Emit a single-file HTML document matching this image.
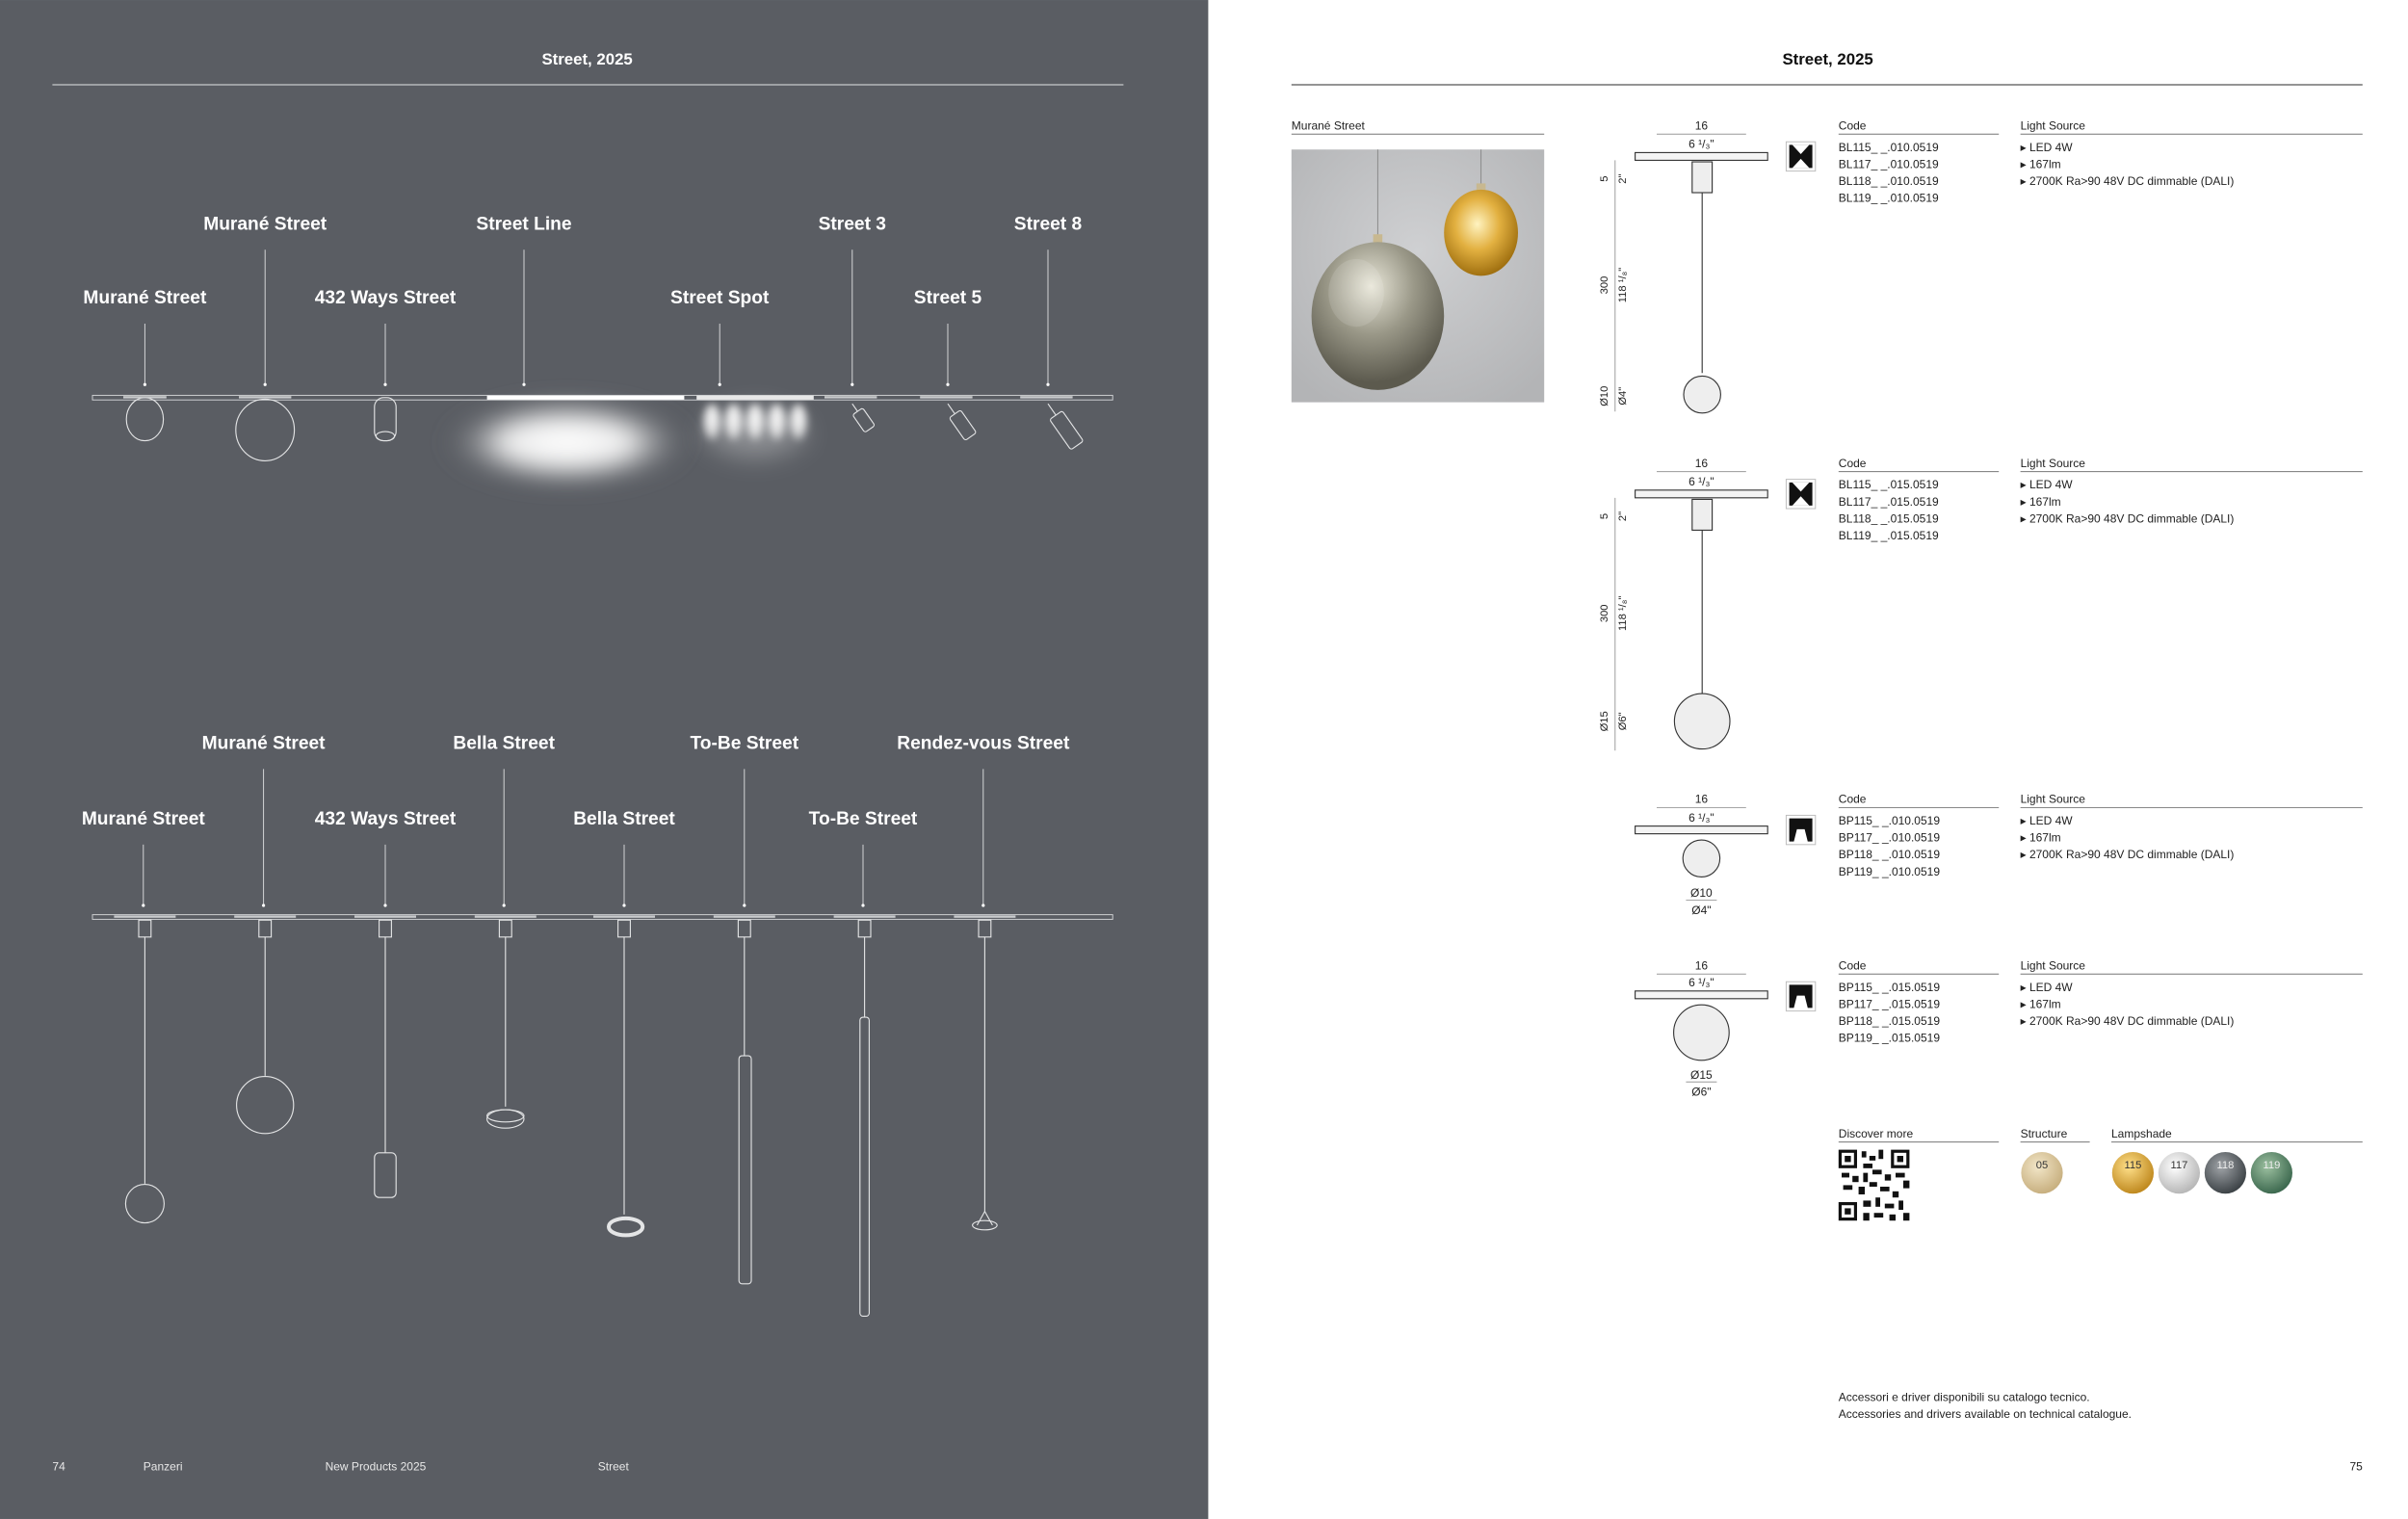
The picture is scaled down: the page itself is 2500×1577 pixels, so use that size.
<!DOCTYPE html>
<html><head><meta charset="utf-8">
<style>
html,body{margin:0;padding:0;background:#fff;}
svg{display:block;}
text{font-family:"Liberation Sans",sans-serif;}
</style></head>
<body>
<svg width="2500" height="1577" viewBox="0 0 1562.5 985.6" xmlns="http://www.w3.org/2000/svg">
<defs>
<radialGradient id="glow" cx="50%" cy="50%" r="50%">
<stop offset="0" stop-color="#fff" stop-opacity="1"/>
<stop offset="0.5" stop-color="#f4f4f4" stop-opacity="0.95"/>
<stop offset="1" stop-color="#5a5d63" stop-opacity="0"/>
</radialGradient>
<radialGradient id="spotg" cx="50%" cy="35%" r="55%">
<stop offset="0" stop-color="#fff" stop-opacity="1"/>
<stop offset="0.6" stop-color="#eee" stop-opacity="0.8"/>
<stop offset="1" stop-color="#fff" stop-opacity="0"/>
</radialGradient>
<radialGradient id="smoke" cx="45%" cy="30%" r="65%">
<stop offset="0" stop-color="#e8e6d8"/>
<stop offset="0.5" stop-color="#9a9888"/>
<stop offset="1" stop-color="#5c5a4e"/>
</radialGradient>
<radialGradient id="amber" cx="45%" cy="40%" r="60%">
<stop offset="0" stop-color="#fff3c0"/>
<stop offset="0.5" stop-color="#e2b040"/>
<stop offset="1" stop-color="#a07010"/>
</radialGradient>
<radialGradient id="gold" cx="40%" cy="35%" r="65%"><stop offset="0" stop-color="#ffe08a"/><stop offset="1" stop-color="#c08a20"/></radialGradient>
<radialGradient id="silver" cx="40%" cy="35%" r="65%"><stop offset="0" stop-color="#fff"/><stop offset="1" stop-color="#b8b8b8"/></radialGradient>
<radialGradient id="dark" cx="40%" cy="35%" r="65%"><stop offset="0" stop-color="#a0a4a8"/><stop offset="1" stop-color="#3e4448"/></radialGradient>
<radialGradient id="green" cx="40%" cy="35%" r="65%"><stop offset="0" stop-color="#9cc0a0"/><stop offset="1" stop-color="#3e6a50"/></radialGradient>
<radialGradient id="beige" cx="40%" cy="35%" r="65%"><stop offset="0" stop-color="#f2e6c8"/><stop offset="1" stop-color="#c8b080"/></radialGradient>
<radialGradient id="bg" cx="50%" cy="40%" r="70%"><stop offset="0" stop-color="#cfd0d2"/><stop offset="1" stop-color="#b3b4b6"/></radialGradient>
<filter id="blur" x="-50%" y="-50%" width="200%" height="200%"><feGaussianBlur stdDeviation="7"/></filter>
<filter id="blur2" x="-50%" y="-50%" width="200%" height="200%"><feGaussianBlur stdDeviation="2.5"/></filter>
</defs>

<!-- LEFT PAGE -->
<rect x="0" y="0" width="784" height="985.6" fill="#5a5d63"/>
<text x="381" y="42" fill="#fff" font-size="10.5" font-weight="bold" text-anchor="middle">Street, 2025</text>
<line x1="34" y1="55" x2="729" y2="55" stroke="#c8cacc" stroke-width="0.8"/>

<g fill="#fff" font-size="12" font-weight="bold" text-anchor="middle">
<text x="172" y="149">Murané Street</text>
<text x="340" y="149">Street Line</text>
<text x="553" y="149">Street 3</text>
<text x="680" y="149">Street 8</text>
<text x="94" y="197">Murané Street</text>
<text x="250" y="197">432 Ways Street</text>
<text x="467" y="197">Street Spot</text>
<text x="615" y="197">Street 5</text>
</g>
<g stroke="#d8d9db" stroke-width="0.6">
<line x1="172" y1="162" x2="172" y2="249"/>
<line x1="340" y1="162" x2="340" y2="249"/>
<line x1="553" y1="162" x2="553" y2="249"/>
<line x1="680" y1="162" x2="680" y2="249"/>
<line x1="94" y1="210" x2="94" y2="249"/>
<line x1="250" y1="210" x2="250" y2="249"/>
<line x1="467" y1="210" x2="467" y2="249"/>
<line x1="615" y1="210" x2="615" y2="249"/>
</g>
<g fill="#fff"><circle cx="172" cy="249.5" r="1"/><circle cx="340" cy="249.5" r="1"/><circle cx="553" cy="249.5" r="1"/><circle cx="680" cy="249.5" r="1"/><circle cx="94" cy="249.5" r="1"/><circle cx="250" cy="249.5" r="1"/><circle cx="467" cy="249.5" r="1"/><circle cx="615" cy="249.5" r="1"/></g>

<!-- top rail -->
<rect x="60" y="256.5" width="662" height="3" fill="none" stroke="#d0d2d4" stroke-width="0.6"/>
<!-- glow -->
<ellipse cx="368" cy="287" rx="82" ry="30" fill="url(#glow)" filter="url(#blur)"/>
<g filter="url(#blur2)">
<ellipse cx="462" cy="276" rx="6.5" ry="14" fill="url(#spotg)"/>
<ellipse cx="476" cy="276" rx="6.5" ry="14" fill="url(#spotg)"/>
<ellipse cx="490" cy="276" rx="6.5" ry="14" fill="url(#spotg)"/>
<ellipse cx="504" cy="276" rx="6.5" ry="14" fill="url(#spotg)"/>
<ellipse cx="518" cy="276" rx="6.5" ry="14" fill="url(#spotg)"/>
</g>
<ellipse cx="490" cy="285" rx="38" ry="22" fill="url(#spotg)" opacity="0.35" filter="url(#blur)"/>
<rect x="316" y="256.7" width="128" height="2.6" fill="#fff"/>
<rect x="452" y="256.7" width="76" height="2.6" fill="#e8e8e8"/>
<g fill="none" stroke="#e4e5e6" stroke-width="0.7">
<ellipse cx="94" cy="272" rx="12" ry="14"/>
<ellipse cx="172" cy="279" rx="19" ry="20"/>
<rect x="243" y="258" width="14" height="28" rx="6"/>
<ellipse cx="250" cy="283" rx="6" ry="3"/>
<g transform="translate(553,262) rotate(-35)"><line x1="0" y1="0" x2="0" y2="6"/><rect x="-4" y="6" width="8" height="14" rx="1.5"/></g>
<g transform="translate(615,262) rotate(-35)"><line x1="0" y1="0" x2="0" y2="8"/><rect x="-4.5" y="8" width="9" height="18" rx="1.5"/></g>
<g transform="translate(680,262) rotate(-35)"><line x1="0" y1="0" x2="0" y2="9"/><rect x="-5" y="9" width="10" height="24" rx="1.5"/></g>
</g>
<g fill="#c8cacc"><rect x="80" y="257" width="28" height="1.5"/><rect x="155" y="257" width="34" height="1.5"/><rect x="535" y="257" width="34" height="1.5"/><rect x="597" y="257" width="34" height="1.5"/><rect x="662" y="257" width="34" height="1.5"/></g>

<!-- bottom labels -->
<g fill="#fff" font-size="12" font-weight="bold" text-anchor="middle">
<text x="171" y="486">Murané Street</text>
<text x="327" y="486">Bella Street</text>
<text x="483" y="486">To-Be Street</text>
<text x="638" y="486">Rendez-vous Street</text>
<text x="93" y="535">Murané Street</text>
<text x="250" y="535">432 Ways Street</text>
<text x="405" y="535">Bella Street</text>
<text x="560" y="535">To-Be Street</text>
</g>
<g stroke="#d8d9db" stroke-width="0.6">
<line x1="171" y1="499" x2="171" y2="587"/>
<line x1="327" y1="499" x2="327" y2="587"/>
<line x1="483" y1="499" x2="483" y2="587"/>
<line x1="638" y1="499" x2="638" y2="587"/>
<line x1="93" y1="548" x2="93" y2="587"/>
<line x1="250" y1="548" x2="250" y2="587"/>
<line x1="405" y1="548" x2="405" y2="587"/>
<line x1="560" y1="548" x2="560" y2="587"/>
</g>
<g fill="#fff"><circle cx="171" cy="587.5" r="1"/><circle cx="327" cy="587.5" r="1"/><circle cx="483" cy="587.5" r="1"/><circle cx="638" cy="587.5" r="1"/><circle cx="93" cy="587.5" r="1"/><circle cx="250" cy="587.5" r="1"/><circle cx="405" cy="587.5" r="1"/><circle cx="560" cy="587.5" r="1"/></g>
<rect x="60" y="593.5" width="662" height="3" fill="none" stroke="#d0d2d4" stroke-width="0.6"/>
<g fill="none" stroke="#e4e5e6" stroke-width="0.7">
<rect x="90" y="597" width="8" height="11"/><rect x="168" y="597" width="8" height="11"/><rect x="246" y="597" width="8" height="11"/><rect x="324" y="597" width="8" height="11"/><rect x="401" y="597" width="8" height="11"/><rect x="479" y="597" width="8" height="11"/><rect x="557" y="597" width="8" height="11"/><rect x="635" y="597" width="8" height="11"/>
<line x1="94" y1="608" x2="94" y2="768"/><circle cx="94" cy="781" r="12.5"/>
<line x1="172" y1="608" x2="172" y2="698"/><circle cx="172" cy="717" r="18.5"/>
<line x1="250" y1="608" x2="250" y2="748"/><rect x="243" y="748" width="14" height="29" rx="3"/>
<line x1="328" y1="608" x2="328" y2="718"/><ellipse cx="328" cy="726" rx="12" ry="6"/><ellipse cx="328" cy="724" rx="12" ry="4"/>
<line x1="405" y1="608" x2="405" y2="788"/><ellipse cx="406" cy="796" rx="11" ry="5.5" stroke-width="2.5"/>
<line x1="483" y1="608" x2="483" y2="685"/><rect x="479.5" y="685" width="8" height="148" rx="2"/>
<line x1="561" y1="608" x2="561" y2="660"/><rect x="558" y="660" width="6" height="194" rx="2"/>
<line x1="639" y1="608" x2="639" y2="786"/><path d="M634 795 L639 786 L644 795"/><ellipse cx="639" cy="795" rx="8" ry="3"/>
</g>
<g fill="#c8cacc"><rect x="74" y="594" width="40" height="1.5"/><rect x="152" y="594" width="40" height="1.5"/><rect x="230" y="594" width="40" height="1.5"/><rect x="308" y="594" width="40" height="1.5"/><rect x="385" y="594" width="40" height="1.5"/><rect x="463" y="594" width="40" height="1.5"/><rect x="541" y="594" width="40" height="1.5"/><rect x="619" y="594" width="40" height="1.5"/></g>

<g fill="#e8e8e8" font-size="7.5">
<text x="34" y="954">74</text>
<text x="93" y="954">Panzeri</text>
<text x="211" y="954">New Products 2025</text>
<text x="388" y="954">Street</text>
</g>

<!-- RIGHT PAGE -->
<text x="1186" y="42" fill="#111" font-size="10.5" font-weight="bold" text-anchor="middle">Street, 2025</text>
<line x1="838" y1="55" x2="1533" y2="55" stroke="#555" stroke-width="0.8"/>
<text x="838" y="84" fill="#222" font-size="7.5">Murané Street</text>
<line x1="838" y1="87" x2="1002" y2="87" stroke="#777" stroke-width="0.6"/>
<rect x="838" y="97" width="164" height="164" fill="url(#bg)"/>
<line x1="894" y1="97" x2="894" y2="155" stroke="#888" stroke-width="0.6"/>
<line x1="961" y1="97" x2="961" y2="122" stroke="#888" stroke-width="0.6"/>
<rect x="891" y="152" width="6" height="10" fill="#c8b890"/>
<rect x="958" y="119" width="6" height="9" fill="#c8b890"/>
<ellipse cx="894" cy="205" rx="43" ry="48" fill="url(#smoke)"/>
<ellipse cx="880" cy="190" rx="18" ry="22" fill="#fff" opacity="0.12"/>
<ellipse cx="961" cy="151" rx="24" ry="28" fill="url(#amber)"/>

<g font-size="7.5" fill="#222">
<text x="1193" y="84">Code</text><text x="1311" y="84">Light Source</text>
<text x="1193" y="98">BL115_ _.010.0519</text><text x="1193" y="109">BL117_ _.010.0519</text><text x="1193" y="120">BL118_ _.010.0519</text><text x="1193" y="131">BL119_ _.010.0519</text>
<text x="1311" y="98">▸ LED 4W</text><text x="1311" y="109">▸ 167lm</text><text x="1311" y="120">▸ 2700K Ra&gt;90 48V DC dimmable (DALI)</text>
<text x="1193" y="303">Code</text><text x="1311" y="303">Light Source</text>
<text x="1193" y="317">BL115_ _.015.0519</text><text x="1193" y="328">BL117_ _.015.0519</text><text x="1193" y="339">BL118_ _.015.0519</text><text x="1193" y="350">BL119_ _.015.0519</text>
<text x="1311" y="317">▸ LED 4W</text><text x="1311" y="328">▸ 167lm</text><text x="1311" y="339">▸ 2700K Ra&gt;90 48V DC dimmable (DALI)</text>
<text x="1193" y="521">Code</text><text x="1311" y="521">Light Source</text>
<text x="1193" y="535">BP115_ _.010.0519</text><text x="1193" y="546">BP117_ _.010.0519</text><text x="1193" y="557">BP118_ _.010.0519</text><text x="1193" y="568">BP119_ _.010.0519</text>
<text x="1311" y="535">▸ LED 4W</text><text x="1311" y="546">▸ 167lm</text><text x="1311" y="557">▸ 2700K Ra&gt;90 48V DC dimmable (DALI)</text>
<text x="1193" y="629">Code</text><text x="1311" y="629">Light Source</text>
<text x="1193" y="643">BP115_ _.015.0519</text><text x="1193" y="654">BP117_ _.015.0519</text><text x="1193" y="665">BP118_ _.015.0519</text><text x="1193" y="676">BP119_ _.015.0519</text>
<text x="1311" y="643">▸ LED 4W</text><text x="1311" y="654">▸ 167lm</text><text x="1311" y="665">▸ 2700K Ra&gt;90 48V DC dimmable (DALI)</text>
<text x="1193" y="738">Discover more</text><text x="1311" y="738">Structure</text><text x="1370" y="738">Lampshade</text>
<text x="1193" y="909">Accessori e driver disponibili su catalogo tecnico.</text>
<text x="1193" y="920">Accessories and drivers available on technical catalogue.</text>
<text x="1533" y="954" text-anchor="end">75</text>
</g>
<g stroke="#777" stroke-width="0.6">
<line x1="1193" y1="87" x2="1297" y2="87"/><line x1="1311" y1="87" x2="1533" y2="87"/>
<line x1="1193" y1="306" x2="1297" y2="306"/><line x1="1311" y1="306" x2="1533" y2="306"/>
<line x1="1193" y1="524" x2="1297" y2="524"/><line x1="1311" y1="524" x2="1533" y2="524"/>
<line x1="1193" y1="632" x2="1297" y2="632"/><line x1="1311" y1="632" x2="1533" y2="632"/>
<line x1="1193" y1="741" x2="1297" y2="741"/><line x1="1311" y1="741" x2="1356" y2="741"/><line x1="1370" y1="741" x2="1533" y2="741"/>
</g>

<!-- icons -->
<g>
<rect x="1159" y="92" width="19" height="19" fill="#fff" stroke="#bbb" stroke-width="0.6"/>
<path d="M1161 94 L1176 94 L1176 109 L1161 109Z" fill="#111"/>
<path d="M1163 94 L1174 94 L1168.5 100Z M1163 109 L1174 109 L1168.5 103Z" fill="#fff"/>
<rect x="1159" y="311" width="19" height="19" fill="#fff" stroke="#bbb" stroke-width="0.6"/>
<path d="M1161 313 L1176 313 L1176 328 L1161 328Z" fill="#111"/>
<path d="M1163 313 L1174 313 L1168.5 319Z M1163 328 L1174 328 L1168.5 322Z" fill="#fff"/>
<rect x="1159" y="529" width="19" height="19" fill="#fff" stroke="#bbb" stroke-width="0.6"/>
<path d="M1161 531 L1176 531 L1176 546 L1173 546 L1171 538 L1166 538 L1164 546 L1161 546Z" fill="#111"/>
<rect x="1159" y="637" width="19" height="19" fill="#fff" stroke="#bbb" stroke-width="0.6"/>
<path d="M1161 639 L1176 639 L1176 654 L1173 654 L1171 646 L1166 646 L1164 654 L1161 654Z" fill="#111"/>
</g>

<!-- drawings -->
<g font-size="7.5" fill="#222" text-anchor="middle">
<text x="1104" y="84">16</text><text x="1104" y="96">6 ¹/₃"</text>
<text x="1104" y="303">16</text><text x="1104" y="315">6 ¹/₃"</text>
<text x="1104" y="521">16</text><text x="1104" y="533">6 ¹/₃"</text>
<text x="1104" y="582">Ø10</text><text x="1104" y="593">Ø4"</text>
<text x="1104" y="629">16</text><text x="1104" y="640">6 ¹/₃"</text>
<text x="1104" y="700">Ø15</text><text x="1104" y="711">Ø6"</text>
</g>
<g font-size="7" fill="#222" text-anchor="middle">
<text transform="translate(1043,116) rotate(-90)">5</text><text transform="translate(1055,116) rotate(-90)">2"</text>
<text transform="translate(1043,185) rotate(-90)">300</text><text transform="translate(1055,185) rotate(-90)">118 ¹/₈"</text>
<text transform="translate(1043,257) rotate(-90)">Ø10</text><text transform="translate(1055,257) rotate(-90)">Ø4"</text>
<text transform="translate(1043,335) rotate(-90)">5</text><text transform="translate(1055,335) rotate(-90)">2"</text>
<text transform="translate(1043,398) rotate(-90)">300</text><text transform="translate(1055,398) rotate(-90)">118 ¹/₈"</text>
<text transform="translate(1043,468) rotate(-90)">Ø15</text><text transform="translate(1055,468) rotate(-90)">Ø6"</text>
</g>
<g stroke="#999" stroke-width="0.6" fill="none">
<line x1="1075" y1="87" x2="1133" y2="87"/><line x1="1075" y1="306" x2="1133" y2="306"/>
<line x1="1075" y1="524" x2="1133" y2="524"/><line x1="1075" y1="632" x2="1133" y2="632"/>
<line x1="1094" y1="584" x2="1114" y2="584"/><line x1="1094" y1="702" x2="1114" y2="702"/>
<line x1="1048" y1="104" x2="1048" y2="267"/><line x1="1048" y1="323" x2="1048" y2="487"/>
</g>
<g stroke="#333" stroke-width="0.7" fill="#f4f4f4">
<rect x="1061" y="99" width="86" height="5"/>
<rect x="1098" y="105" width="13" height="20" fill="#eee"/>
<line x1="1104.5" y1="125" x2="1104.5" y2="242" fill="none"/>
<circle cx="1104.5" cy="256" r="12" fill="#eee"/>
<rect x="1061" y="318" width="86" height="5"/>
<rect x="1098" y="324" width="13" height="20" fill="#eee"/>
<line x1="1104.5" y1="344" x2="1104.5" y2="450" fill="none"/>
<circle cx="1104.5" cy="468" r="18" fill="#eee"/>
<rect x="1061" y="536" width="86" height="5"/>
<circle cx="1104" cy="557" r="12" fill="#eee"/>
<rect x="1061" y="643" width="86" height="5"/>
<circle cx="1104" cy="670" r="18" fill="#eee"/>
</g>

<!-- QR -->
<g fill="#111">
<rect x="1193" y="746" width="46" height="46" fill="#fff"/>
<rect x="1193" y="746" width="12" height="12"/><rect x="1195" y="748" width="8" height="8" fill="#fff"/><rect x="1197" y="750" width="4" height="4"/>
<rect x="1227" y="746" width="12" height="12"/><rect x="1229" y="748" width="8" height="8" fill="#fff"/><rect x="1231" y="750" width="4" height="4"/>
<rect x="1193" y="780" width="12" height="12"/><rect x="1195" y="782" width="8" height="8" fill="#fff"/><rect x="1197" y="784" width="4" height="4"/>
<rect x="1208" y="747" width="3" height="4"/><rect x="1213" y="750" width="4" height="3"/><rect x="1219" y="746" width="3" height="6"/><rect x="1209" y="755" width="6" height="3"/>
<rect x="1195" y="761" width="5" height="3"/><rect x="1202" y="763" width="4" height="4"/><rect x="1209" y="761" width="3" height="6"/><rect x="1215" y="759" width="6" height="3"/>
<rect x="1223" y="762" width="4" height="4"/><rect x="1230" y="761" width="6" height="3"/><rect x="1235" y="766" width="4" height="5"/><rect x="1196" y="769" width="6" height="3"/>
<rect x="1206" y="770" width="4" height="5"/><rect x="1213" y="767" width="5" height="3"/><rect x="1220" y="770" width="6" height="3"/><rect x="1228" y="773" width="4" height="4"/>
<rect x="1209" y="779" width="5" height="4"/><rect x="1217" y="777" width="3" height="6"/><rect x="1223" y="781" width="6" height="3"/><rect x="1232" y="779" width="3" height="6"/>
<rect x="1209" y="787" width="4" height="5"/><rect x="1216" y="787" width="6" height="3"/><rect x="1226" y="788" width="4" height="4"/><rect x="1235" y="787" width="4" height="5"/>
</g>
<circle cx="1325" cy="761" r="13.5" fill="url(#beige)"/>
<circle cx="1384" cy="761" r="13.5" fill="url(#gold)"/>
<circle cx="1414" cy="761" r="13.5" fill="url(#silver)"/>
<circle cx="1444" cy="761" r="13.5" fill="url(#dark)"/>
<circle cx="1474" cy="761" r="13.5" fill="url(#green)"/>
<g font-size="7" fill="#333" text-anchor="middle">
<text x="1325" y="758">05</text><text x="1384" y="758">115</text><text x="1414" y="758">117</text><text x="1444" y="758" fill="#eee">118</text><text x="1474" y="758" fill="#eee">119</text>
</g>
</svg>
</body></html>
